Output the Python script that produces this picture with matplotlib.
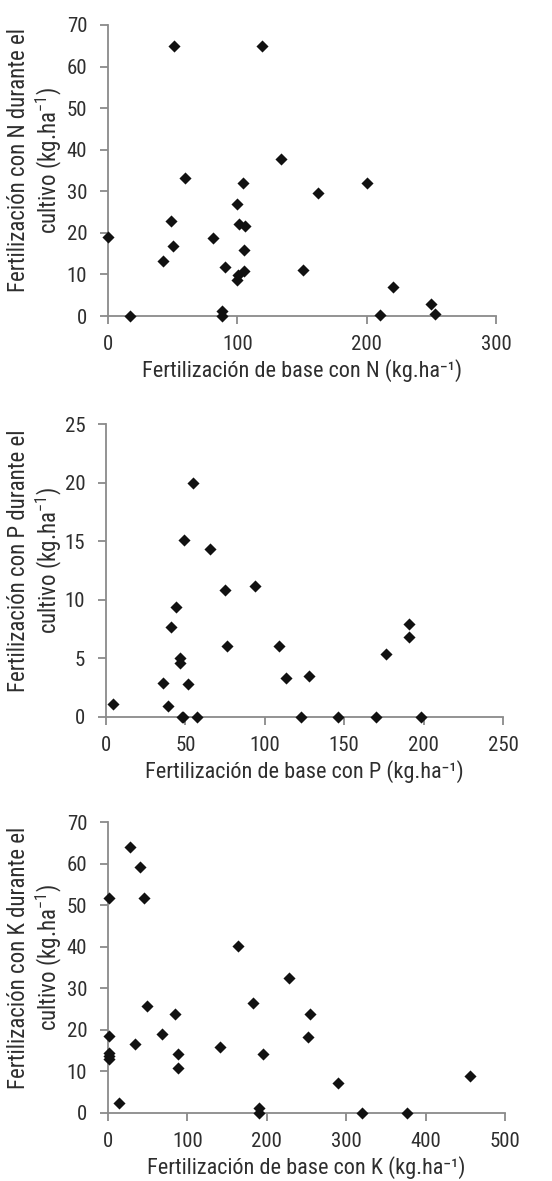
import matplotlib
matplotlib.use("Agg")
import matplotlib.pyplot as plt

# Base fertilization (x) vs. in-crop fertilization (y), kg/ha
n_base = [51, 119, 59.5, 104, 133.5, 162, 200, 0, 17, 42.5, 49, 50, 81.5, 90.5,
          88, 88, 100, 101.5, 106, 105.5, 105.5, 100.5, 100, 151, 210.5, 220,
          250, 252.5]
n_crop = [65, 65, 33.1, 32, 37.8, 29.7, 32, 19.1, 0, 13.3, 22.9, 16.9, 18.8,
          11.9, 1.2, 0, 26.9, 22.1, 21.7, 15.9, 10.9, 9.8, 8.7, 11.1, 0.2, 7,
          3, 0.6]

p_base = [54.7, 49.2, 65.8, 4.6, 35.8, 39.2, 41.1, 44.2, 46.7, 46.7, 47.8,
          48.6, 51.6, 57.0, 74.7, 76.5, 93.7, 109, 113.6, 127.9, 123.1, 146.4,
          169.8, 176.5, 190.5, 190.5, 198.6]
p_crop = [20.0, 15.1, 14.3, 1.1, 2.9, 0.9, 7.7, 9.4, 5.0, 4.6, 0, 0, 2.8, 0,
          10.8, 6.1, 11.2, 6.1, 3.35, 3.5, 0, 0, 0, 5.35, 7.9, 6.8, 0]

k_base = [1.3, 28, 40, 45.5, 164, 228.5, 1.3, 1.3, 1.3, 1.3, 14, 34.5, 49.5,
          68.5, 84.5, 88.5, 88.5, 141.5, 183, 190.5, 190.5, 195, 252.5, 255,
          289.5, 320, 376.5, 456]
k_crop = [51.8, 64.1, 59.2, 51.8, 40.1, 32.4, 18.5, 14.4, 13.6, 12.9, 2.5,
          16.5, 25.7, 19.1, 23.9, 14.1, 10.8, 15.8, 26.5, 1.3, 0, 14.1, 18.2,
          23.8, 7.2, 0.1, 0.1, 8.8]

n_xticks = [0, 100, 200, 300]
n_yticks = [0, 10, 20, 30, 40, 50, 60, 70]
p_xticks = [0, 50, 100, 150, 200, 250]
p_yticks = [0, 5, 10, 15, 20, 25]
k_xticks = [0, 100, 200, 300, 400, 500]
k_yticks = [0, 10, 20, 30, 40, 50, 60, 70]

main_font = "Roboto Condensed"
plt.rcParams["font.family"] = [main_font, "Archivo Narrow", "DejaVu Sans"]
plt.rcParams["mathtext.fontset"] = "custom"
plt.rcParams["mathtext.rm"] = main_font

W, H = 552, 1181
fig = plt.figure(figsize=(W / 100, H / 100), dpi=100)

axis_grey = "#8a8a8a"
text_col = "#2e2e2e"


def panel(rect, x, y, xticks, yticks, nutrient):
    ax = fig.add_axes(rect)
    ax.scatter(x, y, marker="D", s=38, color="#111111", zorder=3,
               clip_on=False, linewidths=0)
    ax.set_xlim(xticks[0], xticks[-1])
    ax.set_ylim(yticks[0], yticks[-1])
    ax.set_xticks(xticks)
    ax.set_yticks(yticks)
    for s in ("top", "right"):
        ax.spines[s].set_visible(False)
    for s in ("left", "bottom"):
        ax.spines[s].set_color(axis_grey)
        ax.spines[s].set_linewidth(1.3)
    ax.tick_params(direction="out", length=6, width=1.3, color=axis_grey,
                   labelsize=15, labelcolor=text_col)
    ax.tick_params(axis="x", pad=8)
    ax.tick_params(axis="y", pad=9)
    ax.set_xlabel(f"Fertilización de base con {nutrient} (kg.ha⁻¹)",
                  fontsize=16, color=text_col, labelpad=3)
    ax.set_ylabel(f"Fertilización con {nutrient} durante el\n"
                  r"cultivo (kg.ha$^{\mathregular{-1}}$)",
                  fontsize=16.5, color=text_col, linespacing=1.15)
    w_px = rect[2] * W
    h_px = rect[3] * H
    ax.yaxis.set_label_coords(-(rect[0] * W - 64) / w_px, 0.5 + 10 / h_px)
    return ax


def frac(left, right, top, bottom):
    return [left / W, 1 - bottom / H, (right - left) / W, (bottom - top) / H]


panel(frac(108, 496, 25, 316), n_base, n_crop, n_xticks, n_yticks, "N")
panel(frac(106, 503, 424, 717), p_base, p_crop, p_xticks, p_yticks, "P")
panel(frac(108, 505, 822, 1113), k_base, k_crop, k_xticks, k_yticks, "K")

fig.savefig("out.png", dpi=100)
